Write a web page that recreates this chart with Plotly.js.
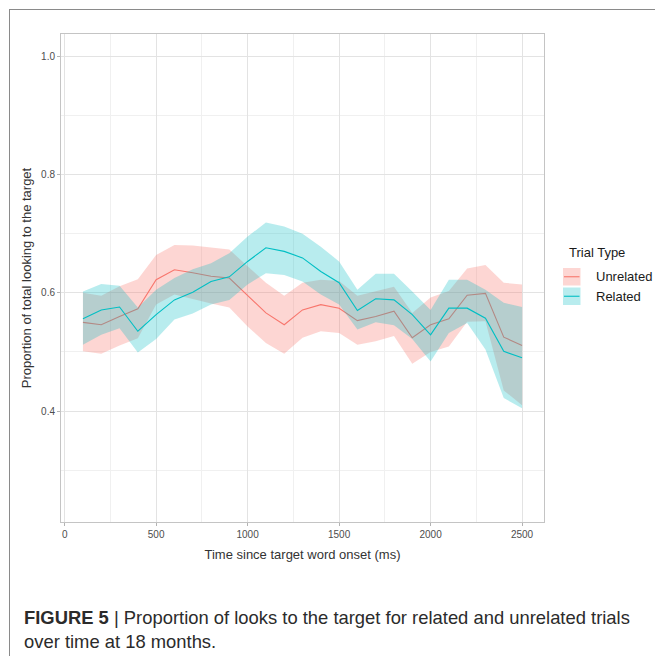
<!DOCTYPE html>
<html>
<head>
<meta charset="utf-8">
<script src="https://cdn.plot.ly/plotly-3.0.1.min.js"></script>
<style>
  html, body { margin:0; padding:0; background:#ffffff; }
  #frame { position:absolute; left:9px; top:9px; width:646px; height:647px;
           border-top:1.5px solid #8a8a8a; border-left:1.5px solid #8a8a8a; box-sizing:border-box; }
  #chart { position:absolute; left:0; top:0; width:655px; height:656px; }
</style>
</head>
<body>
<div id="frame"></div>
<div id="chart"></div>
<script>
// ---- data ----
const timeMs = [100,200,300,400,500,600,700,800,900,1000,1100,1200,1300,1400,1500,1600,1700,1800,1900,2000,2100,2200,2300,2400,2500];

const unrelatedMean  = [0.550,0.546,0.560,0.573,0.622,0.639,0.634,0.628,0.625,0.595,0.566,0.546,0.571,0.580,0.574,0.553,0.560,0.569,0.524,0.546,0.556,0.596,0.599,0.525,0.511];
const unrelatedUpper = [0.600,0.595,0.611,0.623,0.664,0.681,0.680,0.677,0.673,0.645,0.617,0.595,0.617,0.622,0.620,0.595,0.602,0.610,0.566,0.592,0.603,0.641,0.647,0.617,0.614];
const unrelatedLower = [0.501,0.497,0.511,0.523,0.580,0.597,0.590,0.582,0.575,0.543,0.515,0.497,0.524,0.535,0.532,0.512,0.518,0.527,0.480,0.500,0.509,0.551,0.552,0.435,0.410];

const relatedMean  = [0.556,0.571,0.576,0.535,0.563,0.588,0.601,0.619,0.627,0.653,0.676,0.670,0.659,0.636,0.617,0.570,0.590,0.588,0.563,0.529,0.574,0.574,0.557,0.501,0.490];
const relatedUpper = [0.602,0.615,0.612,0.575,0.605,0.625,0.640,0.650,0.667,0.695,0.719,0.712,0.700,0.678,0.653,0.605,0.632,0.632,0.602,0.571,0.622,0.622,0.605,0.583,0.576];
const relatedLower = [0.512,0.529,0.540,0.499,0.522,0.555,0.565,0.580,0.588,0.614,0.633,0.630,0.619,0.597,0.580,0.538,0.550,0.545,0.522,0.484,0.532,0.549,0.504,0.422,0.405];

const seriesNames = ["Unrelated", "Related"];
const legendTitle = "Trial Type";
const xTitle = "Time since target word onset (ms)";
const yTitle = "Proportion of total looking to the target";
const captionBold = "FIGURE 5";
const captionLine1 = "| Proportion of looks to the target for related and unrelated trials";
const captionLine2 = "over time at 18 months.";

// ---- styling ----
const COLORS = ["#F8766D", "#00BFC4"];
const FILLS  = ["rgba(248,118,109,0.30)", "rgba(0,186,194,0.28)"];
const FONT = "'Liberation Sans', Arial, Helvetica, sans-serif";

function ribbon(x, lo, hi, fill, name) {
  return {
    x: x.concat(x.slice().reverse()),
    y: hi.concat(lo.slice().reverse()),
    type: "scatter", mode: "lines", fill: "toself", fillcolor: fill,
    line: { width: 0, color: fill }, hoverinfo: "skip", showlegend: false, name: name
  };
}
function meanLine(x, y, color, name) {
  return { x: x, y: y, type: "scatter", mode: "lines",
           line: { color: color, width: 1.1 }, showlegend: false, name: name };
}

const data = [
  ribbon(timeMs, unrelatedLower, unrelatedUpper, FILLS[0], seriesNames[0]),
  meanLine(timeMs, unrelatedMean, COLORS[0], seriesNames[0]),
  ribbon(timeMs, relatedLower, relatedUpper, FILLS[1], seriesNames[1]),
  meanLine(timeMs, relatedMean, COLORS[1], seriesNames[1])
];

// plot area: x 61..544, y 34..522 px
const L = 61, R = 544, T = 34, B = 522;
const W = R - L, H = B - T;
const px = v => (v - L) / W;
const py = v => (B - v) / H;

const shapes = [];
const annotations = [];
// legend keys
const keyTops = [268, 287.5];
for (let i = 0; i < 2; i++) {
  shapes.push({ type: "rect", xref: "paper", yref: "paper",
    x0: px(563), x1: px(580.5), y0: py(keyTops[i] + 17.5), y1: py(keyTops[i]),
    fillcolor: FILLS[i], line: { width: 0 } });
  shapes.push({ type: "line", xref: "paper", yref: "paper",
    x0: px(564), x1: px(579.5), y0: py(keyTops[i] + 8.75), y1: py(keyTops[i] + 8.75),
    line: { color: COLORS[i], width: 1.1 } });
  annotations.push({ xref: "paper", yref: "paper", x: px(594), y: py(keyTops[i] + 8.75),
    xanchor: "left", yanchor: "middle", showarrow: false, text: seriesNames[i],
    font: { family: FONT, size: 13, color: "#1a1a1a" } });
}
annotations.push({ xref: "paper", yref: "paper", x: px(567), y: py(252.5),
  xanchor: "left", yanchor: "middle", showarrow: false, text: legendTitle,
  font: { family: FONT, size: 13, color: "#1a1a1a" } });

// caption
annotations.push({ xref: "paper", yref: "paper", x: px(22), y: py(617),
  xanchor: "left", yanchor: "middle", showarrow: false,
  text: "<b>" + captionBold + "</b> " + captionLine1,
  font: { family: FONT, size: 18.4, color: "#2b2b2b" } });
annotations.push({ xref: "paper", yref: "paper", x: px(22), y: py(641),
  xanchor: "left", yanchor: "middle", showarrow: false, text: captionLine2,
  font: { family: FONT, size: 18.4, color: "#2b2b2b" } });

const layout = {
  width: 655, height: 656,
  margin: { l: L, r: 655 - R, t: T, b: 656 - B, pad: 0 },
  paper_bgcolor: "rgba(0,0,0,0)", plot_bgcolor: "#ffffff",
  showlegend: false,
  font: { family: FONT, color: "#333333" },
  xaxis: {
    range: [-20, 2620], tick0: 0, dtick: 500, ticks: "outside", ticklen: 3,
    tickcolor: "#b3b3b3", tickwidth: 1,
    tickfont: { family: FONT, size: 10, color: "#4d4d4d" },
    showgrid: true, gridcolor: "#e3e3e3", gridwidth: 1,
    minor: { dtick: 250, tick0: 0, showgrid: true, gridcolor: "#f0f0f0", gridwidth: 1, ticks: "" },
    showline: true, mirror: true, linecolor: "#c4c4c4", linewidth: 1, zeroline: false,
    title: { text: xTitle, font: { family: FONT, size: 13, color: "#333333" }, standoff: 10 },
    automargin: false
  },
  yaxis: {
    range: [0.2125, 1.0375], tick0: 0, dtick: 0.2, tickformat: ".1f", ticks: "outside", ticklen: 3,
    tickcolor: "#b3b3b3", tickwidth: 1,
    tickfont: { family: FONT, size: 10, color: "#4d4d4d" },
    showgrid: true, gridcolor: "#e3e3e3", gridwidth: 1,
    minor: { dtick: 0.1, tick0: 0, showgrid: true, gridcolor: "#f0f0f0", gridwidth: 1, ticks: "" },
    showline: true, mirror: true, linecolor: "#c4c4c4", linewidth: 1, zeroline: false,
    title: { text: yTitle, font: { family: FONT, size: 13, color: "#333333" }, standoff: 6 },
    automargin: false
  },
  shapes: shapes,
  annotations: annotations
};

Plotly.newPlot("chart", data, layout, { displayModeBar: false, staticPlot: true });
</script>
</body>
</html>
